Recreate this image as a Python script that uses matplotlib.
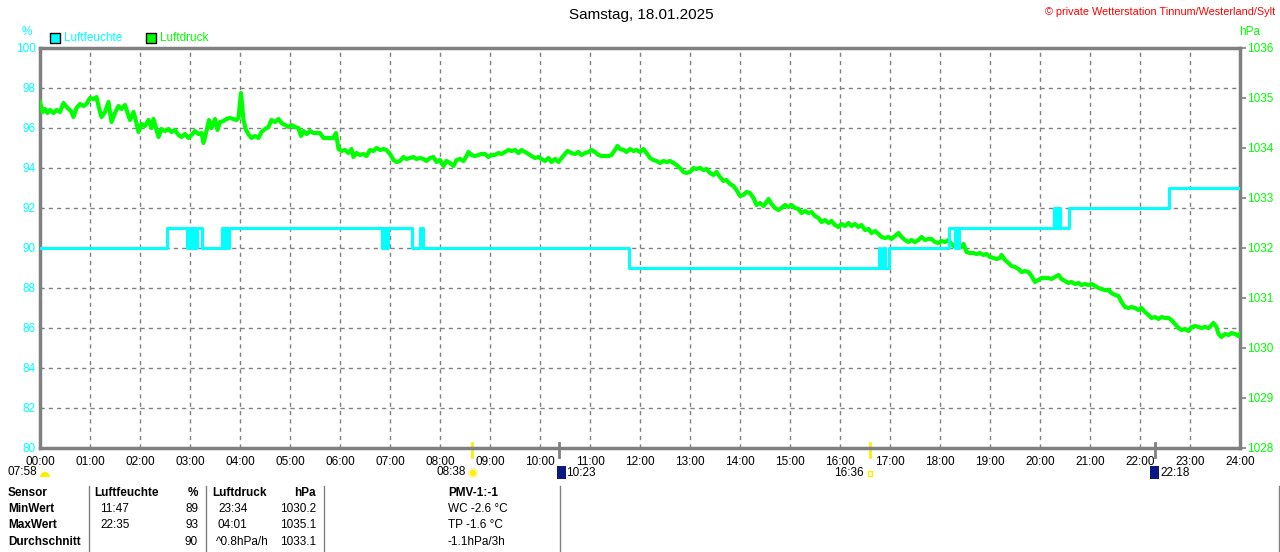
import matplotlib.pyplot as plt
from matplotlib.patches import Rectangle, Wedge, Circle
from matplotlib.lines import Line2D
from matplotlib.transforms import IdentityTransform

plt.rcParams['font.family'] = ['Liberation Sans', 'DejaVu Sans']

# ---- data ----
hum_hours = [0, 2.54, 2.94, 2.98, 3.02, 3.06, 3.10, 3.13, 3.24, 3.64, 3.68, 3.72,
             3.75, 3.78, 6.84, 6.88, 6.92, 6.96, 7.44, 7.60, 7.66, 11.77, 16.77,
             16.81, 16.85, 16.89, 16.97, 18.17, 18.30, 18.33, 18.35, 18.38, 20.27,
             20.31, 20.35, 20.40, 20.58, 22.57, 24]
hum_values = [90, 91, 90, 91, 90, 91, 90, 91, 90, 91, 90, 91,
              90, 91, 90, 91, 90, 91, 90, 91, 90, 89, 90,
              89, 90, 89, 90, 91, 90, 91, 90, 91, 92,
              91, 92, 91, 92, 93, 93]

press_hours = [
    0.00, 0.05, 0.10, 0.15, 0.20, 0.27, 0.33, 0.40, 0.47, 0.55, 0.62, 0.67, 0.73, 0.80,
    0.87, 0.93, 1.00, 1.07, 1.13, 1.18, 1.23, 1.30, 1.37, 1.43, 1.50, 1.57, 1.63, 1.70,
    1.77, 1.80, 1.87, 1.93, 1.97, 2.03, 2.10, 2.17, 2.23, 2.27, 2.33, 2.37, 2.43, 2.50,
    2.57, 2.63, 2.70, 2.77, 2.83, 2.90, 2.97, 3.03, 3.10, 3.17, 3.23, 3.27, 3.33, 3.38,
    3.43, 3.50, 3.55, 3.60, 3.67, 3.73, 3.80, 3.87, 3.93, 3.97, 4.02, 4.07, 4.12, 4.18,
    4.23, 4.30, 4.37, 4.43, 4.50, 4.57, 4.63, 4.70, 4.77, 4.83, 4.90, 4.97, 5.03, 5.10,
    5.17, 5.22, 5.27, 5.33, 5.40, 5.47, 5.53, 5.60, 5.67, 5.73, 5.80, 5.87, 5.92, 5.97,
    6.03, 6.10, 6.17, 6.23, 6.27, 6.33, 6.40, 6.47, 6.53, 6.60, 6.67, 6.73, 6.80, 6.87,
    6.93, 7.00, 7.07, 7.13, 7.20, 7.27, 7.33, 7.40, 7.47, 7.53, 7.60, 7.67, 7.73, 7.80,
    7.87, 7.93, 8.00, 8.07, 8.13, 8.20, 8.27, 8.33, 8.40, 8.47, 8.53, 8.57, 8.63, 8.70,
    8.77, 8.83, 8.90, 8.97, 9.03, 9.10, 9.17, 9.23, 9.30, 9.37, 9.43, 9.50, 9.57, 9.63,
    9.70, 9.77, 9.83, 9.90, 9.97, 10.03, 10.10, 10.17, 10.23, 10.30, 10.37, 10.43, 10.50,
    10.55, 10.63, 10.70, 10.77, 10.83, 10.90, 10.97, 11.03, 11.10, 11.17, 11.23, 11.30,
    11.37, 11.43, 11.50, 11.55, 11.60, 11.67, 11.73, 11.80, 11.87, 11.93, 12.00, 12.07,
    12.13, 12.20, 12.27, 12.33, 12.40, 12.47, 12.53, 12.60, 12.67, 12.73, 12.80, 12.87,
    12.93, 13.00, 13.07, 13.13, 13.20, 13.27, 13.33, 13.40, 13.47, 13.53, 13.60, 13.67,
    13.73, 13.80, 13.87, 13.93, 14.00, 14.07, 14.13, 14.20, 14.27, 14.33, 14.40, 14.47,
    14.53, 14.57, 14.63, 14.70, 14.77, 14.83, 14.90, 14.97, 15.03, 15.10, 15.17, 15.23,
    15.30, 15.37, 15.43, 15.50, 15.57, 15.63, 15.70, 15.77, 15.83, 15.90, 15.97, 16.03,
    16.10, 16.17, 16.23, 16.30, 16.37, 16.43, 16.50, 16.57, 16.63, 16.70, 16.77, 16.83,
    16.90, 16.97, 17.03, 17.10, 17.17, 17.23, 17.30, 17.37, 17.43, 17.50, 17.57, 17.63,
    17.70, 17.77, 17.83, 17.90, 17.97, 18.03, 18.10, 18.17, 18.23, 18.30, 18.37, 18.43,
    18.47, 18.53, 18.60, 18.67, 18.73, 18.80, 18.87, 18.93, 19.00, 19.07, 19.13, 19.20,
    19.23, 19.30, 19.37, 19.43, 19.50, 19.57, 19.63, 19.70, 19.77, 19.83, 19.90, 19.97,
    20.03, 20.10, 20.17, 20.23, 20.30, 20.37, 20.43, 20.50, 20.57, 20.63, 20.70, 20.77,
    20.83, 20.90, 20.97, 21.03, 21.10, 21.17, 21.23, 21.30, 21.37, 21.43, 21.50, 21.57,
    21.63, 21.70, 21.77, 21.83, 21.90, 21.97, 22.03, 22.10, 22.17, 22.23, 22.30, 22.37,
    22.43, 22.50, 22.57, 22.63, 22.70, 22.77, 22.83, 22.90, 22.97, 23.03, 23.10, 23.17,
    23.23, 23.30, 23.37, 23.43, 23.47, 23.53, 23.57, 23.63, 23.70, 23.77, 23.83, 23.90,
    23.97, 24.00]
press_values = [
    1034.92, 1034.72, 1034.78, 1034.70, 1034.76, 1034.70, 1034.76, 1034.72, 1034.90, 1034.80,
    1034.74, 1034.62, 1034.80, 1034.88, 1034.84, 1034.88, 1035.00, 1034.98, 1035.02, 1034.80,
    1034.62, 1034.72, 1034.92, 1034.52, 1034.70, 1034.84, 1034.78, 1034.86, 1034.64, 1034.56,
    1034.72, 1034.50, 1034.32, 1034.48, 1034.44, 1034.56, 1034.40, 1034.58, 1034.36, 1034.22,
    1034.38, 1034.34, 1034.38, 1034.32, 1034.36, 1034.26, 1034.22, 1034.28, 1034.20, 1034.26,
    1034.34, 1034.28, 1034.30, 1034.10, 1034.34, 1034.56, 1034.40, 1034.58, 1034.36, 1034.52,
    1034.54, 1034.58, 1034.60, 1034.58, 1034.56, 1034.60, 1035.10, 1034.56, 1034.36, 1034.26,
    1034.20, 1034.24, 1034.20, 1034.32, 1034.38, 1034.42, 1034.56, 1034.52, 1034.58, 1034.50,
    1034.46, 1034.42, 1034.46, 1034.42, 1034.40, 1034.24, 1034.34, 1034.28, 1034.34, 1034.30,
    1034.30, 1034.30, 1034.20, 1034.20, 1034.20, 1034.20, 1034.30, 1033.98, 1033.94, 1033.96,
    1033.90, 1033.98, 1033.82, 1033.90, 1033.86, 1033.88, 1033.84, 1033.96, 1033.94, 1034.00,
    1033.96, 1033.98, 1033.96, 1033.88, 1033.76, 1033.72, 1033.74, 1033.82, 1033.78, 1033.80,
    1033.82, 1033.78, 1033.80, 1033.78, 1033.74, 1033.80, 1033.82, 1033.72, 1033.76, 1033.64,
    1033.74, 1033.70, 1033.64, 1033.76, 1033.78, 1033.74, 1033.84, 1033.92, 1033.86, 1033.84,
    1033.86, 1033.88, 1033.88, 1033.82, 1033.86, 1033.86, 1033.90, 1033.88, 1033.92, 1033.96,
    1033.94, 1033.96, 1033.90, 1033.96, 1033.92, 1033.88, 1033.84, 1033.80, 1033.82, 1033.78,
    1033.74, 1033.80, 1033.72, 1033.78, 1033.72, 1033.80, 1033.88, 1033.94, 1033.90, 1033.88,
    1033.92, 1033.86, 1033.90, 1033.92, 1033.96, 1033.92, 1033.86, 1033.84, 1033.84, 1033.84,
    1033.86, 1033.96, 1034.04, 1033.98, 1033.96, 1033.92, 1033.98, 1033.94, 1033.96, 1033.92,
    1033.98, 1033.90, 1033.80, 1033.76, 1033.74, 1033.70, 1033.74, 1033.72, 1033.74, 1033.70,
    1033.66, 1033.60, 1033.52, 1033.50, 1033.52, 1033.60, 1033.58, 1033.60, 1033.56, 1033.58,
    1033.50, 1033.46, 1033.52, 1033.42, 1033.34, 1033.36, 1033.28, 1033.24, 1033.16, 1033.04,
    1033.06, 1033.12, 1033.10, 1033.00, 1032.86, 1032.90, 1032.84, 1032.92, 1032.98, 1032.88,
    1032.80, 1032.76, 1032.80, 1032.86, 1032.82, 1032.86, 1032.80, 1032.78, 1032.70, 1032.74,
    1032.70, 1032.72, 1032.64, 1032.60, 1032.52, 1032.56, 1032.50, 1032.54, 1032.46, 1032.42,
    1032.48, 1032.44, 1032.50, 1032.44, 1032.48, 1032.42, 1032.46, 1032.36, 1032.38, 1032.30,
    1032.34, 1032.28, 1032.22, 1032.20, 1032.22, 1032.18, 1032.24, 1032.30, 1032.22, 1032.16,
    1032.12, 1032.16, 1032.12, 1032.16, 1032.22, 1032.16, 1032.18, 1032.18, 1032.12, 1032.10,
    1032.14, 1032.12, 1032.16, 1032.08, 1032.02, 1032.06, 1032.02, 1032.08, 1031.92, 1031.90,
    1031.90, 1031.88, 1031.90, 1031.86, 1031.88, 1031.82, 1031.80, 1031.78, 1031.80, 1031.86,
    1031.76, 1031.70, 1031.64, 1031.62, 1031.58, 1031.52, 1031.54, 1031.52, 1031.44, 1031.32,
    1031.36, 1031.40, 1031.40, 1031.40, 1031.38, 1031.42, 1031.46, 1031.38, 1031.34, 1031.30,
    1031.32, 1031.28, 1031.30, 1031.26, 1031.28, 1031.26, 1031.28, 1031.24, 1031.20, 1031.18,
    1031.16, 1031.16, 1031.10, 1031.06, 1031.04, 1030.92, 1030.82, 1030.80, 1030.82, 1030.80,
    1030.76, 1030.80, 1030.72, 1030.66, 1030.60, 1030.62, 1030.58, 1030.62, 1030.60, 1030.60,
    1030.56, 1030.48, 1030.40, 1030.36, 1030.38, 1030.34, 1030.42, 1030.44, 1030.42, 1030.40,
    1030.42, 1030.40, 1030.46, 1030.50, 1030.42, 1030.28, 1030.22, 1030.28, 1030.26, 1030.30,
    1030.28, 1030.24, 1030.28]

hour_labels = ["%02d:00" % h for h in range(25)]
hum_ticks = list(range(80, 101, 2))
press_ticks = list(range(1028, 1037))

# sunrise, moonset, sunset, moonrise
event_hours = [8 + 38 / 60, 10 + 23 / 60, 16 + 36 / 60, 22 + 18 / 60]
event_colors = ['#FFEE00', '#808080', '#FFEE00', '#808080']

table_rows = [
    ["Sensor", "Luftfeuchte", "%", "Luftdruck", "hPa", "PMV-1:-1"],
    ["MinWert", "11:47", "89", "23:34", "1030.2", "WC -2.6 °C"],
    ["MaxWert", "22:35", "93", "04:01", "1035.1", "TP -1.6 °C"],
    ["Durchschnitt", "", "90", "^0.8hPa/h", "1033.1", "-1.1hPa/3h"],
]

CYAN = '#00FFFF'
GREEN = '#00FF00'
GRAY = '#808080'
YELLOW = '#FFEE00'
W, H = 1280, 552


def px(x, y):
    return x / W, 1 - y / H


fig = plt.figure(figsize=(12.8, 5.52), dpi=100)
ax = fig.add_axes([40 / W, 1 - 448 / H, 1200 / W, 400 / H])
ax2 = ax.twinx()
ax3 = ax.twinx()

# grid + axes
ax.set_xlim(0, 24)
ax.set_ylim(80, 100)
ax.set_xticks(range(25))
ax.set_xticklabels(hour_labels, fontsize=8.5)
ax.set_yticks(hum_ticks)
ax.set_yticklabels([str(v) for v in hum_ticks], fontsize=8.5, color=CYAN)
ax.tick_params(axis='x', length=0, pad=6)
ax.tick_params(axis='y', length=0, pad=3)
ax.grid(True, color=GRAY, linestyle=(0, (3, 3)), linewidth=1)
for s in ax.spines.values():
    s.set_color(GRAY)
    s.set_linewidth(2.5)

# pressure
ax2.plot(press_hours, press_values, color=GREEN, linewidth=3.0, zorder=3)
ax2.set_ylim(1028, 1036)
ax2.set_yticks(press_ticks)
ax2.set_yticklabels([str(v) for v in press_ticks], fontsize=8.5, color=GREEN)
ax2.tick_params(axis='y', length=4, width=1.2, color=GRAY, pad=1)
for s in ax2.spines.values():
    s.set_visible(False)

# humidity on top
ax3.step(hum_hours, hum_values, where='post', color=CYAN, linewidth=2.2)
ax3.set_ylim(80, 100)
ax3.set_xlim(0, 24)
ax3.set_axis_off()

# event markers on the time axis
for h, c in zip(event_hours, event_colors):
    ax.plot([h, h], [0.012, -0.022], transform=ax.get_xaxis_transform(),
            color=c, linewidth=2, clip_on=False)

# titles and units
fig.text(*px(641, 15), "Samstag, 18.01.2025", fontsize=11, ha='center', va='center')
fig.text(*px(1275, 12), "© private Wetterstation Tinnum/Westerland/Sylt",
         fontsize=7.8, color='red', ha='right', va='center')
fig.text(*px(27, 32), "%", fontsize=8.5, color=CYAN, ha='center', va='center')
fig.text(*px(1250, 32), "hPa", fontsize=8.5, color=GREEN, ha='center', va='center')

# legend
for x0, col, lab in [(50, CYAN, "Luftfeuchte"), (146, GREEN, "Luftdruck")]:
    fig.patches.append(Rectangle(px(x0, 43), 10 / W, 10 / H, facecolor=col,
                                 edgecolor='black', linewidth=1,
                                 transform=fig.transFigure))
    fig.text(*px(x0 + 14, 38), lab, fontsize=8.5, color=col, va='center')

# sun / moon row (icons in pixel coordinates)
ident = IdentityTransform()
fig.text(*px(8, 472), "07:58", fontsize=8.5, va='center')
fig.patches.append(Wedge((45, H - 477), 5, 0, 180, facecolor=YELLOW, transform=ident))
fig.text(*px(466, 472), "08:38", fontsize=8.5, va='center', ha='right')
fig.patches.append(Circle((473, H - 473), 4, facecolor=YELLOW, edgecolor='#FFF6A0',
                          linewidth=1.5, transform=ident))
fig.patches.append(Rectangle(px(557, 479), 9 / W, 13 / H, facecolor='#0A1A80',
                             transform=fig.transFigure))
fig.text(*px(566, 473), "10:23", fontsize=8.5, va='center')
fig.text(*px(864, 473), "16:36", fontsize=8.5, va='center', ha='right')
fig.patches.append(Rectangle(px(868, 476), 4 / W, 5 / H, facecolor='none',
                             edgecolor=YELLOW, linewidth=1, transform=fig.transFigure))
fig.patches.append(Rectangle(px(1150, 479), 9 / W, 13 / H, facecolor='#0A1A80',
                             transform=fig.transFigure))
fig.text(*px(1160, 473), "22:18", fontsize=8.5, va='center')

# table
row_y = [493, 509, 525, 542]
col_x = [8, 100, 198, 218, 316, 448]
col_ha = ['left', 'left', 'right', 'left', 'right', 'left']
for r, row in enumerate(table_rows):
    for c, txt in enumerate(row):
        x = col_x[c]
        if r == 0 and c in (1, 3):
            x -= 6
        if r == 3 and c == 3:
            x -= 2
        bold = (r == 0 or c == 0)
        fig.text(*px(x, row_y[r]), txt, fontsize=8.5, ha=col_ha[c], va='center',
                 fontweight='bold' if bold else 'normal')

for x in [89, 206, 324, 560, 1279]:
    fig.add_artist(Line2D([x / W, x / W], [1 - 486 / H, 0], color=GRAY,
                          linewidth=1, transform=fig.transFigure))

fig.savefig("out.png", dpi=100)
